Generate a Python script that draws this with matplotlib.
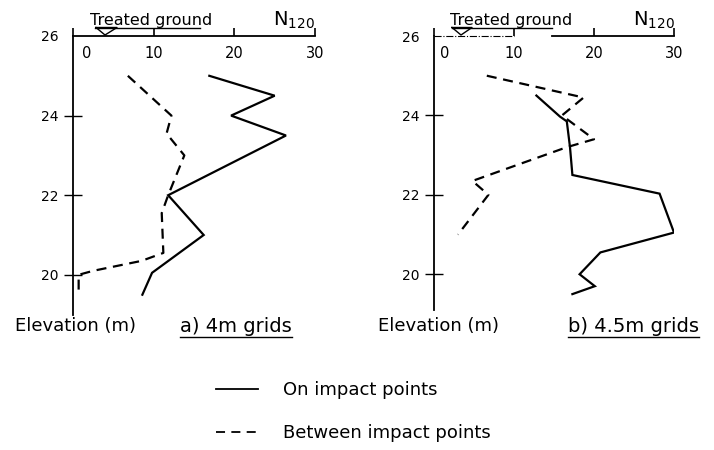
import matplotlib
matplotlib.use("Agg")
import matplotlib.pyplot as plt
from matplotlib.lines import Line2D
import matplotlib.transforms as mtransforms

plt.rcParams['font.family'] = ['DejaVu Sans']

# ---- data ----
a_on_elev = [25.0, 24.5, 24.0, 23.5, 22.0, 21.0, 20.05, 19.5]
a_on_n = [16.9, 25.0, 19.6, 26.4, 11.8, 16.2, 9.8, 8.6]
a_btw_elev = [25.0, 24.0, 23.55, 23.0, 22.0, 21.55, 20.55, 20.35, 20.1, 20.0, 19.5]
a_btw_n = [6.8, 12.2, 11.6, 13.8, 11.8, 11.0, 11.2, 8.5, 2.5, 0.7, 0.7]

b_on_elev = [24.5, 23.97, 23.85, 23.2, 22.5, 22.03, 21.05, 20.55, 20.0, 19.7, 19.5]
b_on_n = [12.8, 15.75, 16.6, 17.0, 17.3, 28.2, 30.0, 20.8, 18.2, 20.1, 17.3]
b_btw_elev = [25.0, 24.45, 24.0, 23.4, 23.2, 22.35, 22.0, 21.0]
b_btw_n = [6.6, 18.7, 16.0, 20.0, 16.6, 4.8, 6.8, 3.0]

x_ticks = [0, 10, 20, 30]
x_labels = ['0', '10', '20', '30']
y_ticks = [20, 22, 24, 26]
y_labels = ['20', '22', '24', '26']
legend_labels = ['On impact points', 'Between impact points']
panel_titles = ['a) 4m grids', 'b) 4.5m grids']

W, H = 714, 450
fig = plt.figure(figsize=(W / 100, H / 100), dpi=100)


def px_axes(x0, x1, ytop, ybot):
    return fig.add_axes([x0 / W, 1 - ybot / H, (x1 - x0) / W, (ybot - ytop) / H])


axL = px_axes(73, 315, 36, 314.6)
axR = px_axes(434, 674, 36, 310)
axL.set_ylim(19.0, 26)
axR.set_ylim(19.1, 26)

solid_kw = dict(color='black', lw=1.6, solid_joinstyle='miter')
dash_kw = dict(color='black', lw=1.6, ls=(0, (4.5, 3)))

axL.plot(a_on_n, a_on_elev, **solid_kw)
axL.plot(a_btw_n, a_btw_elev, **dash_kw)
axR.plot(b_on_n, b_on_elev, **solid_kw)
axR.plot(b_btw_n, b_btw_elev, **dash_kw)

for ax in (axL, axR):
    ax.set_xlim(0, 30)
    ax.patch.set_alpha(0)
    ax.spines['right'].set_visible(False)
    ax.spines['bottom'].set_visible(False)
    ax.spines['left'].set_linewidth(1.3)
    ax.spines['top'].set_linewidth(1.3)
    ax.xaxis.tick_top()
    ax.set_xticks(x_ticks, x_labels)
    ax.tick_params(axis='x', direction='out', length=6, width=1.2, pad=-24,
                   labelsize=10.5)
    ax.set_yticks(y_ticks, y_labels)
    ax.tick_params(axis='y', direction='inout', length=13, width=1.0, pad=4,
                   labelsize=10)
    ax.yaxis.get_major_ticks()[-1].tick1line.set_visible(False)

# shift the "0" x-label right like the original
for ax, dx in ((axL, 14), (axR, 11)):
    tk = ax.get_xaxis().get_major_ticks()[0]
    off = mtransforms.ScaledTranslation(dx / 100, 0, fig.dpi_scale_trans)
    tk.label2.set_transform(tk.label2.get_transform() + off)

# right panel: top line dash-dot from 0 to 10, gap, solid 15..30
axR.spines['top'].set_visible(False)
axR.plot([0, 10], [26, 26], color='black', lw=0.8, ls='-.', clip_on=False)
axR.plot([14.8, 30], [26, 26], color='black', lw=1.3, clip_on=False)


def pxline(xs, ys, **kw):
    fig.add_artist(Line2D([x / W for x in xs], [1 - y / H for y in ys],
                          transform=fig.transFigure, **kw))


# treated ground labels + underline + inverted triangle
fig.text(90 / W, 1 - 20 / H, 'Treated ground', fontsize=11.5, va='center', ha='left')
pxline([95, 200], [27.5, 27.5], color='black', lw=1.0)
pxline([96, 117, 105, 96], [27.5, 27.5, 35, 27.5], color='black', lw=1.0)

fig.text(450 / W, 1 - 20 / H, 'Treated ground', fontsize=11.5, va='center', ha='left')
pxline([452, 552], [27.5, 27.5], color='black', lw=1.0)
pxline([452, 472, 461, 452], [27.5, 27.5, 35, 27.5], color='black', lw=1.0)

fig.text(273 / W, 1 - 20 / H, r'N$_{\mathregular{120}}$', fontsize=14, va='center', ha='left')
fig.text(633 / W, 1 - 20 / H, r'N$_{\mathregular{120}}$', fontsize=14, va='center', ha='left')

# bottom labels
fig.text(15 / W, 1 - 326 / H, 'Elevation (m)', fontsize=13, va='center', ha='left')
fig.text(378 / W, 1 - 326 / H, 'Elevation (m)', fontsize=13, va='center', ha='left')
t1 = fig.text(180 / W, 1 - 326 / H, panel_titles[0], fontsize=14, va='center', ha='left')
t2 = fig.text(568 / W, 1 - 326 / H, panel_titles[1], fontsize=14, va='center', ha='left')

fig.canvas.draw()
r = fig.canvas.get_renderer()
for t in (t1, t2):
    bb = t.get_window_extent(r)
    pxline([bb.x0, bb.x1], [H - bb.y0 + 1, H - bb.y0 + 1], color='black', lw=1.0)

# legend
handles = [Line2D([], [], color='black', lw=1.3),
           Line2D([], [], color='black', lw=1.3, ls=(0, (5, 3.5)))]
fig.legend(handles, legend_labels, loc='upper left',
           bbox_to_anchor=(216 / W, 1 - 381 / H), frameon=False,
           borderpad=0, borderaxespad=0, handlelength=2.3, handletextpad=1.4,
           labelspacing=1.4, fontsize=13)

fig.savefig('out.png', dpi=100)
